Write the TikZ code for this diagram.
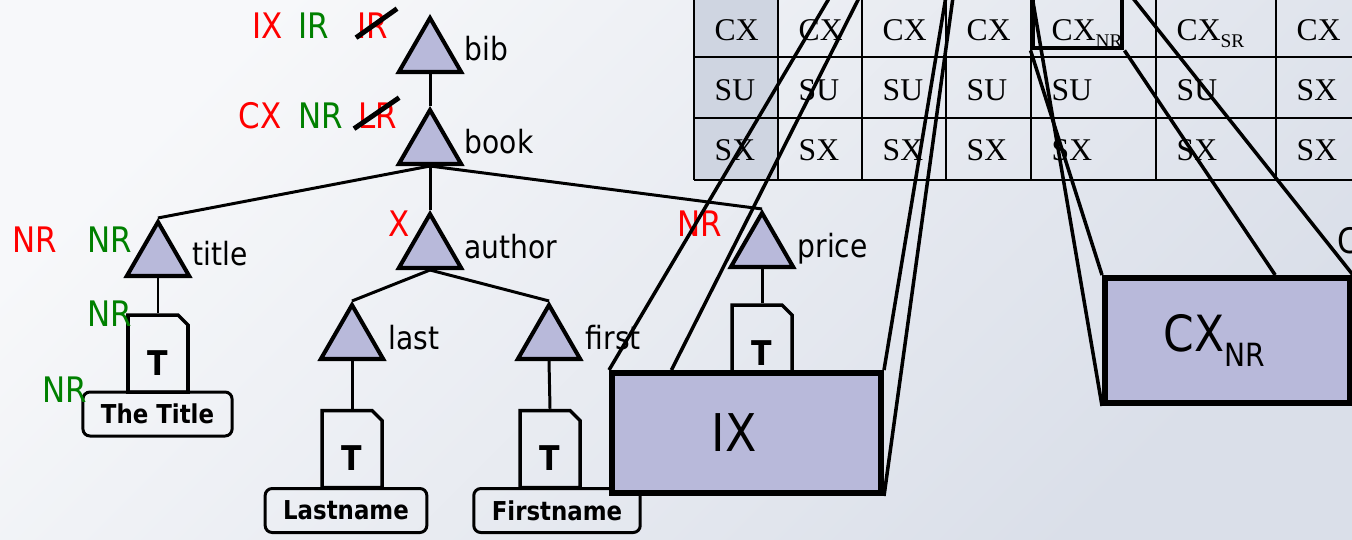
\documentclass[tikz,border=0pt]{standalone}
\usepackage{fontspec}
\setmainfont{DejaVu Sans}[FakeStretch=0.88]
\newfontfamily\tabfont{Liberation Serif}
\usetikzlibrary{shapes.geometric,shapes.misc,calc}

\definecolor{lav}{HTML}{B8B9DA}
\definecolor{redlbl}{HTML}{FF0000}
\definecolor{greenlbl}{HTML}{008000}
\definecolor{bgtop}{HTML}{F7F8FA}
\definecolor{bgbot}{HTML}{DADFE9}
\definecolor{colshade}{HTML}{CFD5E1}

% lowered small index, e.g. CX\idx{2pt}{5.5}{NR}
\newcommand\idx[3]{\raisebox{-#1}{\fontsize{#2}{#2}\selectfont #3}}

\begin{document}
\begin{tikzpicture}[
  elem/.style    = {regular polygon, regular polygon sides=3, draw, fill=lav,
                    line width=1.15pt, inner sep=0pt, minimum size=0.72cm},
  edge/.style    = {line width=0.85pt},
  tag/.style     = {anchor=base west, inner sep=0pt,
                    font=\fontsize{9.1}{10}\selectfont},
  ann/.style     = {anchor=base west, inner sep=0pt,
                    font=\fontsize{10}{11}\selectfont},
  bad/.style     = {ann, text=redlbl},
  good/.style    = {ann, text=greenlbl},
  strike/.style  = {line width=1.4pt},
  textdoc/.style = {chamfered rectangle, chamfered rectangle corners=north east,
                    chamfered rectangle xsep=0.05cm, chamfered rectangle ysep=0.05cm,
                    draw, line width=1pt, inner sep=0pt,
                    minimum width=0.6cm, minimum height=0.77cm,
                    text height=0.43cm, text depth=0pt,
                    font=\bfseries\fontsize{9.7}{10}\selectfont},
  value/.style   = {draw, rounded corners=2pt, line width=0.85pt, inner xsep=0.18cm,
                    minimum height=0.44cm, font=\bfseries\fontsize{7.4}{8}\selectfont},
  cell/.style    = {anchor=base west, inner sep=0pt,
                    font=\tabfont\fontsize{9}{10}\selectfont},
  grid/.style    = {line width=0.6pt},
  big/.style     = {draw, fill=lav, line width=1.7pt,
                    font=\fontsize{14.8}{16}\selectfont},
  zoom/.style    = {line width=1pt},
]

  % backdrop
  \shade[top color=bgtop, bottom color=bgbot, shading angle=45] (0,0) rectangle (13.52,5.39);
  \useasboundingbox (0,0) rectangle (13.52,5.39);
  \clip (0,0) rectangle (13.52,5.39);

  % index table
  \fill[colshade] (6.94,3.59) rectangle (7.78,5.49);
  \draw[grid] (6.94,4.82) -- (13.60,4.82) (6.94,4.21) -- (13.60,4.21) (6.94,3.59) -- (13.60,3.59);
  \draw[grid] (6.94,5.49) -- (6.94,3.59) (7.78,5.49) -- (7.78,3.59) (8.62,5.49) -- (8.62,3.59)
              (9.46,5.49) -- (9.46,3.59) (10.31,5.49) -- (10.31,3.59) (11.56,5.49) -- (11.56,3.59)
              (12.76,5.49) -- (12.76,3.59);

  \node[cell] (a1) at (7.14,4.99) {CX};  \node[cell] (a2) at (7.98,4.99) {CX};
  \node[cell] (a3) at (8.82,4.99) {CX};  \node[cell] (a4) at (9.66,4.99) {CX};
  \node[cell] (a5) at (10.51,4.99) {CX\idx{2pt}{5.5}{NR}};
  \node[cell] (a6) at (11.76,4.99) {CX\idx{2pt}{5.5}{SR}};
  \node[cell] (a7) at (12.96,4.99) {CX};

  \node[cell] (b1) at (7.14,4.39) {SU};  \node[cell] (b2) at (7.98,4.39) {SU};
  \node[cell] (b3) at (8.82,4.39) {SU};  \node[cell] (b4) at (9.66,4.39) {SU};
  \node[cell] (b5) at (10.51,4.39) {SU}; \node[cell] (b6) at (11.76,4.39) {SU};
  \node[cell] (b7) at (12.96,4.39) {SX};

  \node[cell] (c1) at (7.14,3.79) {SX};  \node[cell] (c2) at (7.98,3.79) {SX};
  \node[cell] (c3) at (8.82,3.79) {SX};  \node[cell] (c4) at (9.66,3.79) {SX};
  \node[cell] (c5) at (10.51,3.79) {SX}; \node[cell] (c6) at (11.76,3.79) {SX};
  \node[cell] (c7) at (12.96,3.79) {SX};

  \node[draw, line width=1.4pt, inner sep=0pt, minimum width=0.89cm,
        minimum height=0.58cm] (nrcell) at (10.775,5.20) {};

  % document tree
  \node[elem] (bib)    at (4.30,4.85) {};
  \node[elem] (book)   at (4.30,3.93) {};
  \node[elem] (title)  at (1.58,2.81) {};
  \node[elem] (author) at (4.30,2.89) {};
  \node[elem] (price)  at (7.62,2.90) {};
  \node[elem] (last)   at (3.52,1.98) {};
  \node[elem] (first)  at (5.49,1.98) {};

  \node[tag] (bibname)    at (4.64,4.79) {bib};
  \node[tag] (bookname)   at (4.64,3.86) {book};
  \node[tag] (titlename)  at (1.92,2.74) {title};
  \node[tag] (authorname) at (4.64,2.81) {author};
  \node[tag] (pricename)  at (7.97,2.82) {price};
  \node[tag] (lastname)   at (3.88,1.90) {last};
  \node[tag] (firstname)  at (5.85,1.90) {first};

  \node[textdoc] (titledoc) at (1.58,1.855) {T};
  \node[textdoc] (lastdoc)  at (3.52,0.90) {T};
  \node[textdoc] (firstdoc) at (5.50,0.90) {T};
  \node[textdoc] (pricedoc) at (7.62,1.955) {T};

  \node[value] (titleval) at (1.575,1.25) {The Title};
  \node[value] (lastval)  at (3.46,0.285) {Lastname};
  \node[value] (firstval) at (5.57,0.285) {Firstname};

  \draw[edge] (bib.south) -- (book.north);
  \draw[edge] (book.south) -- (title.north);
  \draw[edge] (book.south) -- (author.north);
  \draw[edge] (book.south) -- (price.north);
  \draw[edge] (author.south) -- (last.north);
  \draw[edge] (author.south) -- (first.north);
  \draw[edge] (title.south) -- (titledoc.north);
  \draw[edge] (last.south) -- (lastdoc.north);
  \draw[edge] (first.south) -- (firstdoc.north);
  \draw[edge] (price.south) -- (pricedoc.north);

  % axes kept / dropped per level
  \node[bad]  (ixbib)  at (2.52,5.01) {IX};
  \node[good] (irbib)  at (2.98,5.01) {IR};
  \node[bad]  (irdrop) at (3.57,5.01) {IR};
  \node[bad]  (cxbook) at (2.38,4.11) {CX};
  \node[good] (nrbook) at (2.98,4.11) {NR};
  \node[bad]  (lrdrop) at (3.58,4.11) {LR};
  \node[bad]  (nrtitle)  at (0.12,2.87) {NR};
  \node[good] (nrtitle2) at (0.87,2.87) {NR};
  \node[good] (nrdoc)    at (0.87,2.13) {NR};
  \node[good] (nrval)    at (0.42,1.37) {NR};
  \node[bad]  (xauthor)  at (3.88,3.03) {X};
  \node[bad]  (nrprice)  at (6.77,3.03) {NR};

  \draw[strike] ([shift={(-0.01,0.01)}]irdrop.south west) -- ([shift={(0.08,0.03)}]irdrop.north east);
  \draw[strike] ([shift={(-0.04,0)}]lrdrop.south west) -- ([shift={(0.01,0.04)}]lrdrop.north east);

  % storage blocks
  \node[big, minimum width=2.69cm, minimum height=1.20cm] (ix) at (7.465,1.06) {IX\hspace*{0.25cm}};
  \node[big, minimum width=2.45cm, minimum height=1.25cm,
        font=\fontsize{14.2}{16}\selectfont] (cxnr) at (12.275,1.985) {CX\idx{4.3pt}{9.1}{NR}\hspace*{0.26cm}};
  \node[ann] (more) at (13.37,2.86) {C};

  \coordinate (ixa) at (8.34,5.49);
  \coordinate (ixb) at (8.63,5.49);
  \coordinate (ixc) at (9.47,5.49);
  \coordinate (ixd) at (9.54,5.49);

  \draw[zoom] (ixa) -- (ix.north west);
  \draw[zoom] (ixb) -- ($(ix.north west)!0.227!(ix.north east)$);
  \draw[zoom] (ixc) -- (ix.north east);
  \draw[zoom] (ixd) -- (ix.south east);

  \draw[zoom] (nrcell.north west) -- (cxnr.south west);
  \draw[zoom] (nrcell.south west) -- (cxnr.north west);
  \draw[zoom] (nrcell.south east) -- ($(cxnr.north west)!0.69!(cxnr.north east)$);
  \draw[zoom] (nrcell.north east) -- (cxnr.north east);

\end{tikzpicture}
\end{document}
